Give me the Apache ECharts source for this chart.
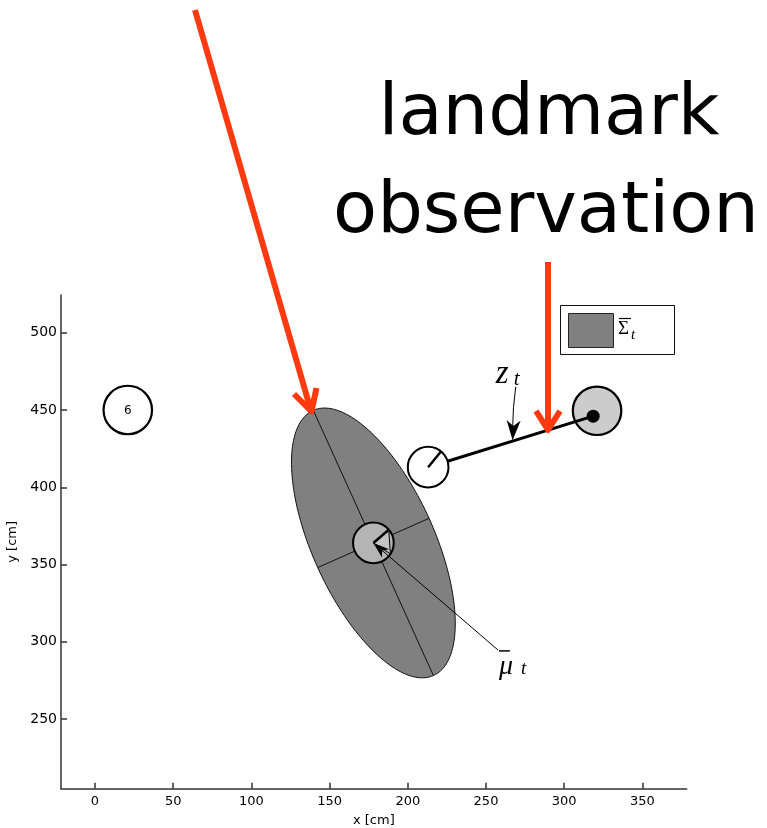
<!DOCTYPE html>
<html>
<head>
<meta charset="utf-8">
<script src="https://cdn.jsdelivr.net/npm/echarts@6/dist/echarts.min.js"></script>
<style>
  html, body { margin: 0; padding: 0; background: #fff; }
  #chart { width: 767px; height: 828px; }
</style>
</head>
<body>
<div id="chart"></div>
<script>
// ---- axes ----
const xTicks = [0, 50, 100, 150, 200, 250, 300, 350];
const yTicks = [250, 300, 350, 400, 450, 500];
const xRange = [-21.7, 378.3];
const yRange = [205, 524.4];

// ---- landmarks (cm) ----
const landmarkIds = ['6', ''];
const landmarkX = [21, 321];
const landmarkY = [450, 449.5];
const landmarkSeen = [false, true];
const landmarkRadius = 15.5;

// ---- predicted belief: mean pose and covariance ellipse ----
const muBar = [178, 364];
const muHeading = 41;          // deg
const muWedgeEnd = -33;        // deg
const sigmaAxes = [94, 39];    // semi-axes (cm)
const sigmaAngle = -65.9;      // orientation of the major axis (deg)

// ---- true robot pose ----
const robotPose = [213, 413];
const robotHeading = 51;       // deg
const robotRadius = 13;

// ---- measurement z_t ----
const zEnd = [318.5, 446];
const zTarget = [267, 430.4];  // point on the measurement ray marked by z_t
const zLabel = [269, 465];
const muLabel = [257.6, 294.8];

const chart = echarts.init(document.getElementById('chart'), null, { renderer: 'canvas' });

const rad = d => d * Math.PI / 180;
const along = (p, r, deg) => [p[0] + r * Math.cos(rad(deg)), p[1] + r * Math.sin(rad(deg))];

// barbed arrow head in pixel space
function arrowHead(tip, from, len, halfW) {
  const dx = tip[0] - from[0], dy = tip[1] - from[1];
  const L = Math.hypot(dx, dy), ux = dx / L, uy = dy / L;
  const bx = tip[0] - ux * len, by = tip[1] - uy * len;
  const nx = -uy, ny = ux;
  const notch = [tip[0] - ux * len * 0.72, tip[1] - uy * len * 0.72];
  return [tip, [bx + nx * halfW, by + ny * halfW], notch, [bx - nx * halfW, by - ny * halfW]];
}

const serif = '"Liberation Serif", "DejaVu Serif", serif';
const sans = '"DejaVu Sans", sans-serif';

const axisStyle = { color: '#333', width: 1.5 };

const option = {
  animation: false,
  backgroundColor: '#fff',
  grid: { left: 61, top: 295, right: 80.3, bottom: 39.3, containLabel: false, outerBoundsMode: 'none' },
  xAxis: {
    type: 'value', min: xRange[0], max: xRange[1],
    splitLine: { show: false },
    axisLine: { show: true, onZero: false, lineStyle: axisStyle },
    axisTick: { show: true, inside: true, length: 6, customValues: xTicks, lineStyle: axisStyle },
    axisLabel: { customValues: xTicks, margin: 6, color: '#000', fontFamily: sans, fontSize: 13 },
    name: 'x [cm]', nameLocation: 'middle', nameGap: 25,
    nameTextStyle: { color: '#000', fontFamily: sans, fontSize: 13 }
  },
  yAxis: {
    type: 'value', min: yRange[0], max: yRange[1],
    splitLine: { show: false },
    axisLine: { show: true, onZero: false, lineStyle: axisStyle },
    axisTick: { show: true, inside: true, length: 6, customValues: yTicks, lineStyle: axisStyle },
    axisLabel: { customValues: yTicks, margin: 4, color: '#000', fontFamily: sans, fontSize: 14 },
    name: 'y [cm]', nameLocation: 'middle', nameGap: 33,
    nameTextStyle: { color: '#000', fontFamily: sans, fontSize: 13 }
  },
  series: [
    // covariance ellipse with its principal axes
    {
      type: 'custom', name: 'Sigma', z: 2, silent: true,
      data: [[muBar[0], muBar[1]]],
      renderItem: (params, api) => {
        const c = [api.value(0), api.value(1)];
        const th = rad(sigmaAngle);
        const u = [Math.cos(th), Math.sin(th)], v = [-Math.sin(th), Math.cos(th)];
        const pt = (s, t) => api.coord([c[0] + s * u[0] + t * v[0], c[1] + s * u[1] + t * v[1]]);
        const ring = [];
        for (let k = 0; k < 180; k++) {
          const a = 2 * Math.PI * k / 180;
          ring.push(pt(sigmaAxes[0] * Math.cos(a), sigmaAxes[1] * Math.sin(a)));
        }
        const p1 = pt(sigmaAxes[0], 0), p2 = pt(-sigmaAxes[0], 0);
        const q1 = pt(0, sigmaAxes[1]), q2 = pt(0, -sigmaAxes[1]);
        return {
          type: 'group', children: [
            { type: 'polygon', shape: { points: ring }, style: { fill: '#808080', stroke: '#111', lineWidth: 1 } },
            { type: 'line', shape: { x1: p1[0], y1: p1[1], x2: p2[0], y2: p2[1] }, style: { stroke: '#111', lineWidth: 1 } },
            { type: 'line', shape: { x1: q1[0], y1: q1[1], x2: q2[0], y2: q2[1] }, style: { stroke: '#111', lineWidth: 1 } }
          ]
        };
      }
    },
    // predicted mean pose
    {
      type: 'custom', name: 'muBar', z: 3, silent: true,
      data: [[muBar[0], muBar[1]]],
      renderItem: (params, api) => {
        const c0 = [api.value(0), api.value(1)];
        const c = api.coord(c0);
        const r = api.size([robotRadius, 0])[0];
        const h = api.coord(along(c0, robotRadius, muHeading));
        const w = api.coord(along(c0, robotRadius, muWedgeEnd));
        return {
          type: 'group', children: [
            { type: 'circle', shape: { cx: c[0], cy: c[1], r: r }, style: { fill: '#b4b4b4', stroke: '#000', lineWidth: 2 } },
            { type: 'polygon', shape: { points: [c, h, w] }, style: { fill: '#c4c4c4', stroke: '#000', lineWidth: 1 } },
            { type: 'line', shape: { x1: c[0], y1: c[1], x2: h[0], y2: h[1] }, style: { stroke: '#000', lineWidth: 2.5 } }
          ]
        };
      }
    },
    // landmarks
    {
      type: 'custom', name: 'landmarks', z: 3, silent: true,
      data: landmarkX.map((x, i) => [x, landmarkY[i], i]),
      renderItem: (params, api) => {
        const i = api.value(2);
        const c = api.coord([api.value(0), api.value(1)]);
        const r = api.size([landmarkRadius, 0])[0];
        const children = [
          { type: 'circle', shape: { cx: c[0], cy: c[1], r: r },
            style: { fill: landmarkSeen[i] ? '#cccccc' : '#ffffff', stroke: '#000', lineWidth: 2.2 } }
        ];
        if (landmarkIds[i]) {
          children.push({ type: 'text', x: c[0], y: c[1] + 1,
            style: { text: landmarkIds[i], fill: '#000', font: '12px ' + sans, align: 'center', verticalAlign: 'middle' } });
        }
        return { type: 'group', children };
      }
    },
    // measurement ray from the robot to the observed landmark
    {
      type: 'custom', name: 'z_t', z: 4, silent: true,
      data: [[robotPose[0], robotPose[1], zEnd[0], zEnd[1]]],
      renderItem: (params, api) => {
        const a = api.coord([api.value(0), api.value(1)]);
        const b = api.coord([api.value(2), api.value(3)]);
        return {
          type: 'group', children: [
            { type: 'line', shape: { x1: a[0], y1: a[1], x2: b[0], y2: b[1] }, style: { stroke: '#000', lineWidth: 3 } },
            { type: 'circle', shape: { cx: b[0], cy: b[1], r: 6.5 }, style: { fill: '#000' } }
          ]
        };
      }
    },
    // true robot pose
    {
      type: 'custom', name: 'robot', z: 5, silent: true,
      data: [[robotPose[0], robotPose[1]]],
      renderItem: (params, api) => {
        const c0 = [api.value(0), api.value(1)];
        const c = api.coord(c0);
        const r = api.size([robotRadius, 0])[0];
        const h = api.coord(along(c0, robotRadius, robotHeading));
        return {
          type: 'group', children: [
            { type: 'circle', shape: { cx: c[0], cy: c[1], r: r }, style: { fill: '#fff', stroke: '#000', lineWidth: 2 } },
            { type: 'line', shape: { x1: c[0], y1: c[1], x2: h[0], y2: h[1] }, style: { stroke: '#000', lineWidth: 2.5 } }
          ]
        };
      }
    },
    // annotations: z_t and mu_t leaders with their labels
    {
      type: 'custom', name: 'labels', z: 6, silent: true,
      data: [[0]],
      renderItem: (params, api) => {
        const zs = api.coord(zLabel), zt = api.coord(zTarget);
        const ms = api.coord(muLabel), mt = api.coord(muBar);
        const zCtrl = [zs[0] - 3, zs[1] + 20];
        return {
          type: 'group', children: [
            { type: 'bezierCurve', shape: { x1: zs[0], y1: zs[1], x2: zt[0], y2: zt[1] - 10, cpx1: zCtrl[0], cpy1: zCtrl[1] },
              style: { stroke: '#000', lineWidth: 1, fill: null } },
            { type: 'polygon', shape: { points: arrowHead(zt, [zt[0] + 1, zt[1] - 20], 20, 7) }, style: { fill: '#000' } },
            { type: 'text', x: zs[0] - 20, y: zs[1] - 12,
              style: { text: 'z', fill: '#000', font: 'italic 33px ' + serif, align: 'left', verticalAlign: 'middle' } },
            { type: 'text', x: zs[0] - 2, y: zs[1] - 7,
              style: { text: 't', fill: '#000', font: 'italic 21px ' + serif, align: 'left', verticalAlign: 'middle' } },
            { type: 'line', shape: { x1: ms[0], y1: ms[1], x2: mt[0], y2: mt[1] }, style: { stroke: '#000', lineWidth: 1 } },
            { type: 'polygon', shape: { points: arrowHead(mt, ms, 16, 5.5) }, style: { fill: '#000' } },
            { type: 'line', shape: { x1: ms[0] + 1, y1: ms[1] + 1, x2: ms[0] + 12, y2: ms[1] + 1 }, style: { stroke: '#000', lineWidth: 1.5 } },
            { type: 'text', x: ms[0] + 1, y: ms[1] + 17,
              style: { text: 'μ', fill: '#000', font: 'italic 28px ' + serif, align: 'left', verticalAlign: 'middle' } },
            { type: 'text', x: ms[0] + 23, y: ms[1] + 19,
              style: { text: 't', fill: '#000', font: 'italic 19px ' + serif, align: 'left', verticalAlign: 'middle' } }
          ]
        };
      }
    }
  ],
  graphic: [
    // legend box for the covariance
    { type: 'rect', left: 560, top: 305, shape: { width: 114, height: 49 }, style: { fill: '#fff', stroke: '#111', lineWidth: 1 }, z: 10 },
    { type: 'rect', left: 568, top: 313, shape: { width: 45, height: 34 }, style: { fill: '#808080', stroke: '#222', lineWidth: 1 }, z: 11 },
    { type: 'line', shape: { x1: 619, y1: 318.5, x2: 631, y2: 318.5 }, style: { stroke: '#000', lineWidth: 1.2 }, z: 11 },
    { type: 'text', x: 618, y: 329, style: { text: 'Σ', fill: '#000', font: '19px ' + serif, align: 'left', verticalAlign: 'middle' }, z: 11 },
    { type: 'text', x: 631, y: 335, style: { text: 't', fill: '#000', font: 'italic 15px ' + serif, align: 'left', verticalAlign: 'middle' }, z: 11 },
    // callout text
    { type: 'text', x: 549, y: 115, style: { text: 'landmark', fill: '#000', font: '72px ' + sans, align: 'center', verticalAlign: 'middle' }, z: 12 },
    { type: 'text', x: 546, y: 213, style: { text: 'observation', fill: '#000', font: '72px ' + sans, align: 'center', verticalAlign: 'middle' }, z: 12 },
    // red pointer arrows
    { type: 'line', shape: { x1: 195, y1: 10, x2: 310.5, y2: 409 }, style: { stroke: '#ff3a10', lineWidth: 6, lineCap: 'butt' }, z: 20 },
    { type: 'polyline', shape: { points: [[294, 394], [311.5, 411.5], [316.5, 388]] }, style: { stroke: '#ff3a10', lineWidth: 6, lineJoin: 'round', lineCap: 'butt', fill: null }, z: 20 },
    { type: 'line', shape: { x1: 548, y1: 262, x2: 548, y2: 428 }, style: { stroke: '#ff3a10', lineWidth: 6, lineCap: 'butt' }, z: 20 },
    { type: 'polyline', shape: { points: [[536, 411], [548, 430], [560, 411]] }, style: { stroke: '#ff3a10', lineWidth: 6, lineJoin: 'round', lineCap: 'butt', fill: null }, z: 20 }
  ]
};

chart.setOption(option);
</script>
</body>
</html>
